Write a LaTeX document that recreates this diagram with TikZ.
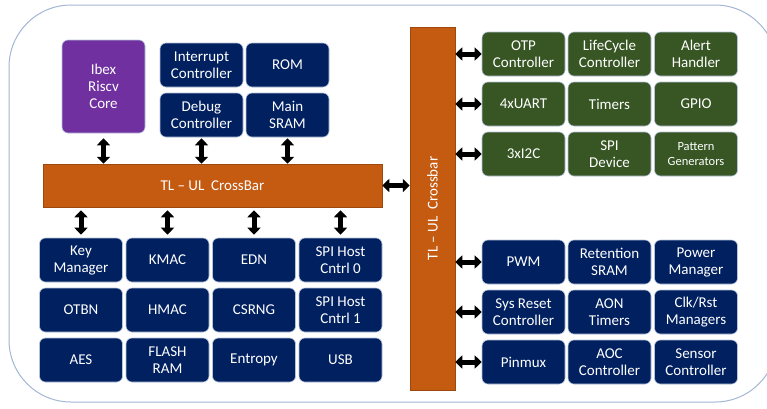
\documentclass[tikz,border=0pt]{standalone}
\usepackage{fontspec}
\setmainfont{Carlito}
\usetikzlibrary{arrows.meta}

\definecolor{navyblk}{HTML}{002060}
\definecolor{greenblk}{HTML}{375623}
\definecolor{corepurple}{HTML}{7030A0}
\definecolor{busorange}{HTML}{C55A11}
\definecolor{ipedge}{HTML}{B4C2DA}
\definecolor{frameblue}{HTML}{A3B6D4}

\tikzset{
  ipblk/.style={rounded corners=6pt, draw=ipedge, line width=0.6pt, text=white,
    align=center, minimum width=83pt, minimum height=44pt, inner sep=1pt,
    font=\fontsize{15}{17}\selectfont},
  hiblk/.style={ipblk, fill=navyblk},
  loblk/.style={ipblk, fill=greenblk},
  bus/.style={fill=busorange, draw=busorange!80!black, line width=0.5pt, text=white,
    inner sep=0pt, font=\fontsize{15}{17}\selectfont},
  link/.style={{Triangle[width=13pt,length=7pt]}-{Triangle[width=13pt,length=7pt]},
    line width=5pt, black},
}

\begin{document}
\begin{tikzpicture}[x=1pt,y=-1pt]
  \useasboundingbox (0,0) rectangle (767,408);
  \begin{scope}
    \clip (0,0) rectangle (767,408);
    \draw[frameblue, line width=1pt, rounded corners=62pt] (9,5) rectangle (777,402);
  \end{scope}

  % core side
  \node[ipblk, fill=corepurple, minimum height=93pt] (ibex) at (103.5,86.5) {Ibex\\Riscv\\Core};
  \node[hiblk] (intc) at (201.5,65) {Interrupt\\Controller};
  \node[hiblk] (rom) at (287.5,65) {ROM};
  \node[hiblk] (dbg) at (201.5,115) {Debug\\Controller};
  \node[hiblk] (sram) at (287.5,115) {Main\\SRAM};

  \node[bus, minimum width=339pt, minimum height=43pt] (xbar) at (212.5,185.5) {TL -- UL\ \ CrossBar};

  \node[hiblk] (keym) at (81,260) {Key\\Manager};
  \node[hiblk] (kmac) at (167.5,260) {KMAC};
  \node[hiblk] (edn) at (254,260) {EDN};
  \node[hiblk] (spih0) at (340.5,260) {SPI Host\\Cntrl 0};
  \node[hiblk] (otbn) at (81,310) {OTBN};
  \node[hiblk] (hmac) at (167.5,310) {HMAC};
  \node[hiblk] (csrng) at (254,310) {CSRNG};
  \node[hiblk] (spih1) at (340.5,310) {SPI Host\\Cntrl 1};
  \node[hiblk] (aes) at (81,360) {AES};
  \node[hiblk] (flash) at (167.5,360) {FLASH\\RAM};
  \node[hiblk] (entropy) at (254,360) {Entropy};
  \node[hiblk] (usb) at (340.5,360) {USB};

  % peripheral side
  \node[bus, minimum width=45pt, minimum height=363pt] (vbar) at (432.5,208.5) {};
  \node[rotate=90, text=white, font=\fontsize{15}{17}\selectfont] at (vbar.center) {TL -- UL\ \ Crossbar};

  \node[loblk] (otp) at (523.5,54) {OTP\\Controller};
  \node[loblk] (lc) at (609.5,54) {LifeCycle\\Controller};
  \node[loblk] (alert) at (696,54) {Alert\\Handler};
  \node[loblk] (uart) at (523.5,104) {4xUART};
  \node[loblk] (timers) at (609.5,104) {Timers};
  \node[loblk] (gpio) at (696,104) {GPIO};
  \node[loblk] (i2c) at (523.5,154) {3xI2C};
  \node[loblk] (spid) at (609.5,154) {SPI\\Device};
  \node[loblk, font=\fontsize{12.5}{15}\selectfont] (pattgen) at (696,154) {Pattern\\Generators};

  \node[hiblk] (pwm) at (523.5,262) {PWM};
  \node[hiblk] (ret) at (609.5,262) {Retention\\SRAM};
  \node[hiblk] (pwrmgr) at (696,262) {Power\\Manager};
  \node[hiblk] (sysrst) at (523.5,312) {Sys Reset\\Controller};
  \node[hiblk] (aontmr) at (609.5,312) {AON\\Timers};
  \node[hiblk] (clkrst) at (696,312) {Clk/Rst\\Managers};
  \node[hiblk] (pinmux) at (523.5,362) {Pinmux};
  \node[hiblk] (aoc) at (609.5,362) {AOC\\Controller};
  \node[hiblk] (sensor) at (696,362) {Sensor\\Controller};

  % links
  \draw[link, shorten <=5pt] (ibex.south) -- (ibex.south |- xbar.north);
  \draw[link, shorten <=1pt] (dbg.south) -- (dbg.south |- xbar.north);
  \draw[link, shorten <=1pt] (sram.south) -- (sram.south |- xbar.north);

  \draw[link, shorten <=3pt, shorten >=3pt] (xbar.south -| keym) -- (keym.north);
  \draw[link, shorten <=3pt, shorten >=3pt] (xbar.south -| kmac) -- (kmac.north);
  \draw[link, shorten <=3pt, shorten >=3pt] (xbar.south -| edn) -- (edn.north);
  \draw[link, shorten <=3pt, shorten >=3pt] (xbar.south -| spih0) -- (spih0.north);

  \draw[link] (xbar.east) -- (xbar.east -| vbar.west);

  \draw[link] (vbar.east |- otp) -- (otp.west);
  \draw[link] (vbar.east |- uart) -- (uart.west);
  \draw[link] (vbar.east |- i2c) -- (i2c.west);
  \draw[link] (vbar.east |- pwm) -- (pwm.west);
  \draw[link] (vbar.east |- sysrst) -- (sysrst.west);
  \draw[link] (vbar.east |- pinmux) -- (pinmux.west);
\end{tikzpicture}
\end{document}
